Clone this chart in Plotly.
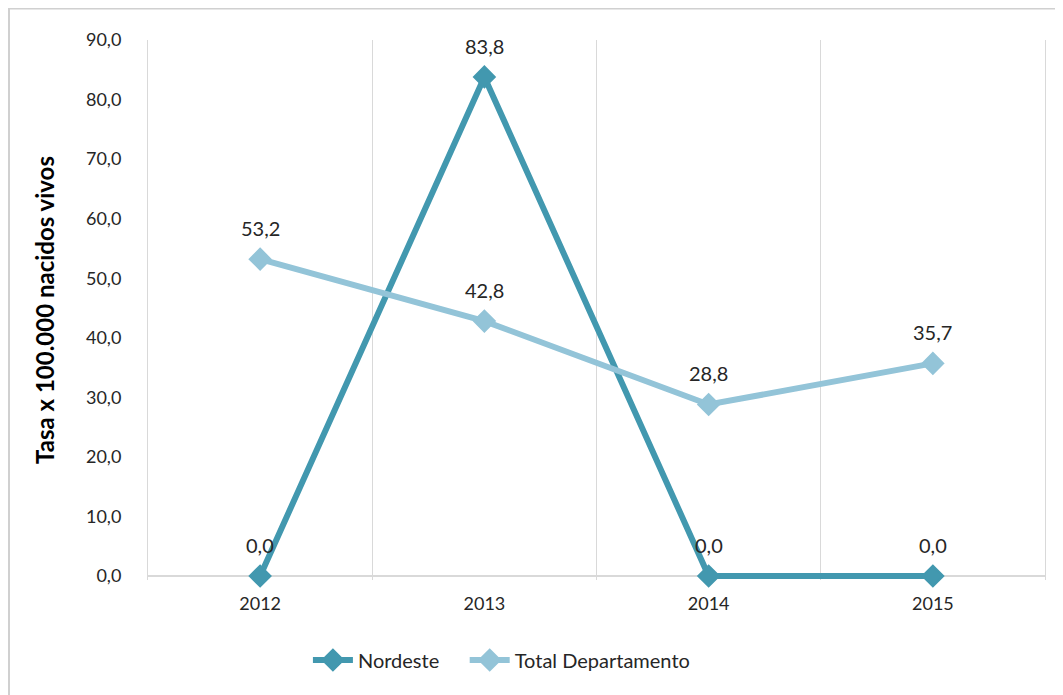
import plotly.graph_objects as go

years = ["2012", "2013", "2014", "2015"]
nordeste = [0.0, 83.8, 0.0, 0.0]
total_departamento = [53.2, 42.8, 28.8, 35.7]
y_ticks = [0, 10, 20, 30, 40, 50, 60, 70, 80, 90]

FONT = "Lato"
TXT = "#262626"
C_NORD = "#4298AF"
C_TOT = "#93C4D8"

W, H = 1055, 687          # page body has an 8px margin
ML, MR, MT, MB = 140, 18, 32, 115
PW, PH = W - ML - MR, H - MT - MB
Y_LOW = -4 / 536 * 90     # small room below zero so the zero line isn't clipped

fig = go.Figure()
series = [("Nordeste", nordeste, C_NORD, "\u00a0" * 4),
          ("Total Departamento", total_departamento, C_TOT, "")]
for name, vals, col, pad in series:
    fig.add_trace(go.Scatter(
        x=years, y=vals, name=name + pad, mode="lines+markers",
        line=dict(color=col, width=6), cliponaxis=False,
        marker=dict(symbol="diamond", size=16, color=col, line=dict(color=col, width=2)),
    ))
    for i, yv in enumerate(vals):
        fig.add_annotation(x=i, y=yv, text=f"{yv:.1f}".replace(".", ","),
                           showarrow=False, yshift=31, yanchor="middle",
                           font=dict(family=FONT, size=20, color=TXT))

fig.update_layout(
    width=W, height=H,
    margin=dict(l=ML, r=MR, t=MT, b=MB),
    paper_bgcolor="white", plot_bgcolor="white",
    separators=",.",
    font=dict(family=FONT, size=18, color=TXT),
    showlegend=True,
    legend=dict(orientation="h", x=0.394, xanchor="center",
                y=(PH - (652 - MT)) / PH, yanchor="middle",
                font=dict(family=FONT, size=20, color=TXT), itemwidth=40,
                traceorder="normal"),
    xaxis=dict(
        type="category", tickson="boundaries", range=[-0.5, 3.5],
        showgrid=True, gridcolor="#D9D9D9", gridwidth=1,
        showline=False, ticks="",
        tickfont=dict(family=FONT, size=18, color=TXT), ticklabelstandoff=11,
        zeroline=False,
    ),
    yaxis=dict(
        range=[Y_LOW, 90], tickvals=y_ticks, tickformat=".1f", showgrid=False,
        zeroline=True, zerolinecolor="#D9D9D9", zerolinewidth=2,
        showline=True, linecolor="#D9D9D9", linewidth=1, mirror=True,
        ticks="", tickfont=dict(family=FONT, size=18, color=TXT),
        ticklabelstandoff=22,
        title=dict(text="<b>Tasa x 100.000 nacidos vivos</b>", standoff=24,
                   font=dict(family=FONT, size=24, color="#000000")),
    ),
)

fig.add_shape(type="rect", xref="paper", yref="paper",
              x0=(1 - ML) / PW, x1=(W + 20 - ML) / PW,
              y0=-(MB + 20) / PH, y1=(PH + MT - 0.5) / PH,
              line=dict(color="#D0D0D0", width=2), fillcolor="rgba(0,0,0,0)", layer="below")

fig.write_html("out.html")
